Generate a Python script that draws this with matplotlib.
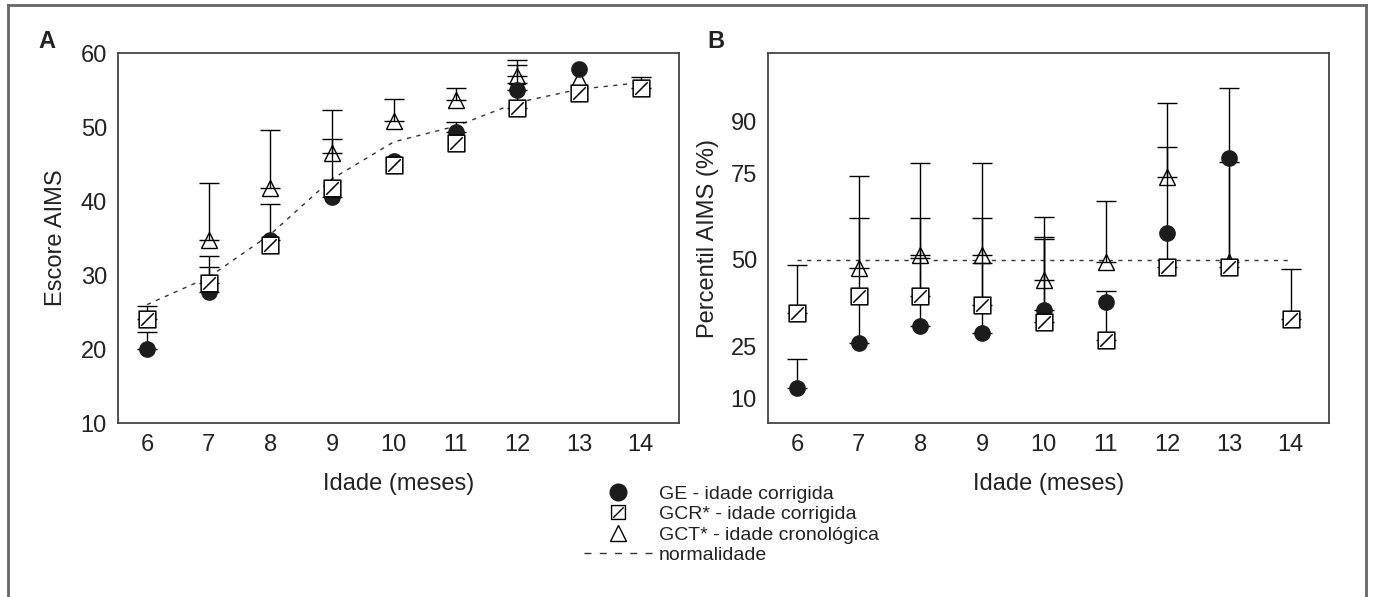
import numpy as np
import matplotlib
matplotlib.use("Agg")
import matplotlib.pyplot as plt
from matplotlib.path import Path
from matplotlib.lines import Line2D

plt.rcParams['font.family'] = ['Liberation Sans', 'DejaVu Sans']

# Data
idade = [6, 7, 8, 9, 10, 11, 12, 13, 14]
nan = np.nan

# Panel A - Escore AIMS
ge_escore = [20.0, 27.7, 34.7, 40.5, 45.4, 49.3, 55.0, 57.8, nan]
ge_escore_sup = [22.3, 31.1, 39.6, 48.4, nan, 50.7, 56.0, nan, nan]
gcr_escore = [24.0, 28.9, 34.1, 41.8, 44.9, 47.8, 52.6, 54.6, 55.3]
gcr_escore_sup = [25.8, 32.6, nan, nan, nan, nan, 58.4, nan, 56.7]
gct_escore = [nan, 34.7, 41.7, 46.5, 50.8, 53.6, 56.9, 56.5, nan]
gct_escore_sup = [nan, 42.5, 49.6, 52.3, 53.8, 55.3, 59.1, nan, nan]
norm_escore = [26.0, 29.7, 35.5, 43.0, 48.0, 50.1, 53.3, 55.1, 56.0]

# Panel B - Percentil AIMS
ge_perc = [13.1, 26.1, 31.0, 28.9, 35.6, 37.9, 57.8, 79.4, nan]
ge_perc_sup = [21.5, 62.1, 62.1, 62.1, 56.6, nan, nan, nan, nan]
gcr_perc = [34.7, 39.6, 39.6, 37.0, 32.1, 26.9, 48.0, 48.0, 33.0]
gcr_perc_sup = [48.6, nan, 50.5, 49.1, 56.1, 41.1, 95.2, 99.6, 47.4]
gct_perc = [nan, 47.7, 51.4, 51.4, 44.2, 49.4, 73.9, 49.4, nan]
gct_perc_sup = [nan, 74.2, 78.0, 78.0, 62.4, 67.0, 82.6, 78.2, nan]
norm_perc = [50, 50, 50, 50, 50, 50, 50, 50, 50]

labels = ['GE - idade corrigida', 'GCR* - idade corrigida',
          'GCT* - idade cronológica', 'normalidade']

# square with a diagonal stroke
sq_path = Path([(-1, -1), (1, -1), (1, 1), (-1, 1), (-1, -1), (-0.75, -0.75), (0.75, 0.75)],
               [Path.MOVETO, Path.LINETO, Path.LINETO, Path.LINETO, Path.CLOSEPOLY,
                Path.MOVETO, Path.LINETO])

DARK = '#1c1c1c'
TXT = '#222222'
MS = 11
FS = 17


def upper_bars(ax, x, y, up):
    x = np.array(x, float); y = np.array(y, float); up = np.array(up, float)
    m = ~np.isnan(up) & ~np.isnan(y)
    ax.errorbar(x[m], y[m], yerr=[np.zeros(m.sum()), up[m] - y[m]], fmt='none',
                ecolor='black', elinewidth=1, capsize=7.5, capthick=1, zorder=3)


def panel(ax, ge, ge_sup, gcr, gcr_sup, gct, gct_sup, norm):
    ax.plot(idade, norm, color='#333333', lw=1, ls=(0, (3, 4)), zorder=1)
    ax.plot(idade, gct, ls='none', marker='^', ms=MS + 1, mfc='white', mec='black', mew=1, zorder=2)
    upper_bars(ax, idade, ge, ge_sup)
    upper_bars(ax, idade, gcr, gcr_sup)
    upper_bars(ax, idade, gct, gct_sup)
    ax.plot(idade, ge, ls='none', marker='o', ms=MS, mfc=DARK, mec=DARK, zorder=4)
    ax.plot(idade, gcr, ls='none', marker=sq_path, ms=MS + 1, mfc='white', mec='black', mew=1.1, zorder=5)
    ax.set_xlim(5.53, 14.62)
    ax.set_xticks(idade)
    ax.tick_params(length=0, labelsize=FS, pad=8, colors=TXT)
    for s in ax.spines.values():
        s.set_color('#444444')
        s.set_linewidth(1.3)
    ax.set_xlabel('Idade (meses)', fontsize=FS, labelpad=12, color=TXT)


fig = plt.figure(figsize=(13.73, 5.97), dpi=100)
W, H = 1373, 597
axA = fig.add_axes([118 / W, 1 - 423 / H, 561 / W, 370 / H])
axB = fig.add_axes([768 / W, 1 - 423 / H, 561 / W, 370 / H])

panel(axA, ge_escore, ge_escore_sup, gcr_escore, gcr_escore_sup, gct_escore, gct_escore_sup, norm_escore)
axA.set_ylim(10, 60)
axA.set_yticks([10, 20, 30, 40, 50, 60])
axA.set_ylabel('Escore AIMS', fontsize=FS, labelpad=10, color=TXT)

panel(axB, ge_perc, ge_perc_sup, gcr_perc, gcr_perc_sup, gct_perc, gct_perc_sup, norm_perc)
axB.set_ylim(3, 109.6)
axB.set_yticks([10, 25, 50, 75, 90])
axB.set_ylabel('Percentil AIMS (%)', fontsize=FS, labelpad=8, color=TXT)

fig.text(38 / W, 1 - 42 / H, 'A', fontsize=17, fontweight='bold', va='center', color=TXT)
fig.text(707 / W, 1 - 42 / H, 'B', fontsize=17, fontweight='bold', va='center', color=TXT)

# outer frame (open at the bottom)
fc = '#666666'
fig.add_artist(Line2D([7.5 / W, 7.5 / W], [0, 1 - 5 / H], color=fc, lw=2, transform=fig.transFigure))
fig.add_artist(Line2D([7.5 / W, 1366 / W], [1 - 5 / H, 1 - 5 / H], color=fc, lw=2, transform=fig.transFigure))
fig.add_artist(Line2D([1366 / W, 1366 / W], [0, 1 - 5 / H], color=fc, lw=2, transform=fig.transFigure))

handles = [
    Line2D([], [], ls='none', marker='o', ms=12, mfc=DARK, mec=DARK),
    Line2D([], [], ls='none', marker=sq_path, ms=10, mfc='white', mec='black', mew=1),
    Line2D([], [], ls='none', marker='^', ms=11, mfc='white', mec='black', mew=1),
    Line2D([], [], color='#333333', lw=1, ls=(0, (5, 6))),
]
fig.legend(handles, labels, loc='upper left', bbox_to_anchor=(584 / W, 1 - 485 / H),
           frameon=False, fontsize=14, handlelength=3.5, handletextpad=0.35,
           labelspacing=0.15, borderpad=0, borderaxespad=0, labelcolor=TXT)

fig.savefig('out.png', dpi=100, facecolor='white')
